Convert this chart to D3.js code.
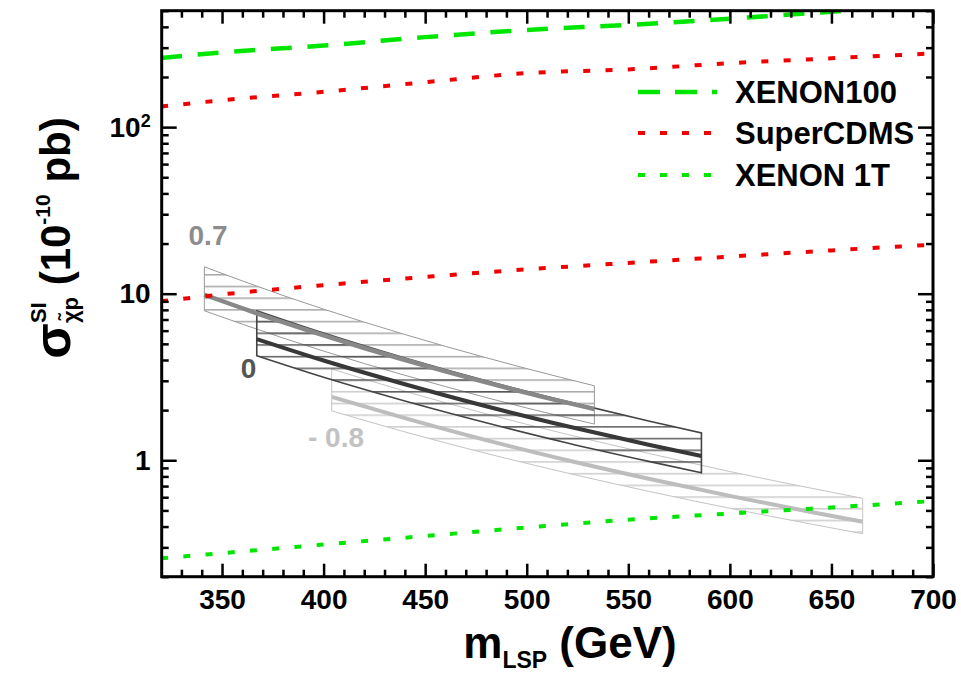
<!DOCTYPE html>
<html><head><meta charset="utf-8">
<script src="https://cdn.jsdelivr.net/npm/d3@7"></script>
<style>
body{margin:0;background:#fff}
svg{display:block}
text{font-family:"Liberation Sans",Arial,Helvetica,sans-serif;font-weight:bold}
</style>
</head><body>
<svg id="c" width="961" height="678"></svg>
<script>
// ---------- data ----------
const massGrid = [320,350,400,450,500,550,600,650,700];
const xenon100 = [260,281,309,347,383,411,448,493,545];
const superCDMSUpper = [133,145,163,186,211,222,242,259,277];
const superCDMSLower = [9.0,9.9,11.25,12.6,14.0,15.3,16.7,18.2,19.7];
const xenon1T = [0.258,0.277,0.312,0.351,0.395,0.440,0.479,0.521,0.569];

const band07Mass   = [341.3,380,420,460,500,533.3];
const band07Upper  = [14.5,9.76,6.75,4.83,3.55,2.80];
const band07Center = [9.86,6.74,4.72,3.42,2.54,2.03];
const band07Lower  = [7.9,5.42,3.81,2.77,2.06,1.65];

const band0Mass   = [367.1,400,440,480,520,560,586];
const band0Upper  = [7.9,5.80,4.11,3.00,2.25,1.72,1.46];
const band0Center = [5.34,3.97,2.86,2.11,1.60,1.24,1.06];
const band0Lower  = [4.24,3.15,2.27,1.68,1.27,0.985,0.842];

const bandM08Mass   = [404,440,480,520,560,600,640,665.4];
const bandM08Upper  = [3.53,2.60,1.90,1.43,1.10,0.856,0.680,0.591];
const bandM08Center = [2.40,1.79,1.32,1.00,0.775,0.611,0.489,0.427];
const bandM08Lower  = [1.98,1.48,1.10,0.838,0.651,0.515,0.414,0.362];

const bandLabels = ["0.7","0","- 0.8"];
const legendLabels = ["XENON100","SuperCDMS","XENON 1T"];
const xTickValues = [350,400,450,500,550,600,650,700];
const xMinorTicks = [330,340,360,370,380,390,410,420,430,440,460,470,480,490,510,520,530,540,560,570,580,590,610,620,630,640,660,670,680,690];
const yTickValues = [1,10,100];
const yMinorTicks = [0.2,0.3,0.4,0.5,0.6,0.7,0.8,0.9,2,3,4,5,6,7,8,9,20,30,40,50,60,70,80,90,200,300,400,500];

// ---------- layout ----------
const L=161.7, R=933, T=10.7, B=576.7;
const FONT='"Liberation Sans",Arial,Helvetica,sans-serif';
const svg = d3.select("#c");
const x = d3.scaleLinear().domain([320.3,700]).range([L,R]);
const y = d3.scaleLog().domain([0.2,500]).range([B,T]);

const defs = svg.append("defs");
defs.append("clipPath").attr("id","plotclip").append("rect")
  .attr("x",L).attr("y",T).attr("width",R-L).attr("height",B-T);
function hatch(id,color,w){
  const p=defs.append("pattern").attr("id",id).attr("patternUnits","userSpaceOnUse")
    .attr("width",20).attr("height",11.7);
  p.append("line").attr("x1",0).attr("x2",20).attr("y1",5.7).attr("y2",5.7)
    .attr("stroke",color).attr("stroke-width",w);
}

const bands = [
  {m:bandM08Mass,u:bandM08Upper,c:bandM08Center,l:bandM08Lower,col:"#bdbdbd",edge:"#c4c4c4",cw:4,ew:1,id:"hM08"},
  {m:band07Mass,u:band07Upper,c:band07Center,l:band07Lower,col:"#888",edge:"#999",cw:4.5,ew:1,id:"h07"},
  {m:band0Mass,u:band0Upper,c:band0Center,l:band0Lower,col:"#383838",edge:"#444",cw:4,ew:1.6,id:"h0"}
];
bands.forEach(b=>hatch(b.id,b.edge,1.3));

const plot = svg.append("g").attr("clip-path","url(#plotclip)");
const area = d3.area().x(d=>x(d[0])).y0(d=>y(d[2])).y1(d=>y(d[1])).curve(d3.curveMonotoneX);
const line = d3.line().x(d=>x(d[0])).y(d=>y(d[1])).curve(d3.curveMonotoneX);

bands.forEach(b=>{
  const pts = b.m.map((m,i)=>[m,b.u[i],b.l[i]]);
  plot.append("path").attr("d",area(pts)+"Z").attr("fill",`url(#${b.id})`)
    .attr("stroke",b.edge).attr("stroke-width",b.ew);
});
bands.forEach(b=>{
  plot.append("path").attr("d",line(b.m.map((m,i)=>[m,b.c[i]])))
    .attr("fill","none").attr("stroke",b.col).attr("stroke-width",b.cw);
});

// limit curves
const GREEN="#00e600", RED="#f00000";
const limits = [
  {v:xenon100,col:GREEN,dash:"21,15.7",w:4.5},
  {v:superCDMSUpper,col:RED,dash:"7,15.3",w:4},
  {v:superCDMSLower,col:RED,dash:"7,15.3",w:4},
  {v:xenon1T,col:GREEN,dash:"7,15.3",w:4}
];
limits.forEach(s=>{
  plot.append("path").attr("d",line(massGrid.map((m,i)=>[m,s.v[i]])))
    .attr("fill","none").attr("stroke",s.col).attr("stroke-width",s.w)
    .attr("stroke-dasharray",s.dash);
});

// band labels
const bandLabelSpec=[{t:bandLabels[0],x:208,y:245,col:"#8c8c8c"},{t:bandLabels[1],x:248.5,y:377.5,col:"#555"},{t:bandLabels[2],x:336,y:447,col:"#c2c2c2"}];
bandLabelSpec.forEach(s=>svg.append("text").attr("x",s.x).attr("y",s.y).attr("text-anchor","middle")
  .attr("font-size",28).attr("fill",s.col).text(s.t));

// legend
const legendSpec=[{col:GREEN,dash:"22,15",w:4.5,y:92},{col:RED,dash:"7,15",w:4,y:133},{col:GREEN,dash:"7,15",w:4,y:175}];
legendSpec.forEach((s,i)=>{
  svg.append("line").attr("x1",638).attr("x2",717).attr("y1",s.y).attr("y2",s.y)
    .attr("stroke",s.col).attr("stroke-width",s.w).attr("stroke-dasharray",s.dash);
  svg.append("text").attr("x",735).attr("y",s.y+11).attr("font-size",31).attr("fill","#000").text(legendLabels[i]);
});

// axes
function styleAxis(g){
  g.select(".domain").remove();
  g.selectAll("line").attr("stroke","#000").attr("stroke-width",2.5);
  g.selectAll("text").attr("font-size",28).attr("font-family",FONT).attr("font-weight","bold").attr("fill","#000");
  return g;
}
styleAxis(svg.append("g").attr("transform",`translate(0,${B})`)
  .call(d3.axisBottom(x).tickValues(xTickValues).tickSize(-13).tickPadding(12).tickFormat(d3.format("d"))));
styleAxis(svg.append("g").attr("transform",`translate(0,${B})`)
  .call(d3.axisBottom(x).tickValues(xMinorTicks).tickSize(-7).tickFormat("")));
styleAxis(svg.append("g").attr("transform",`translate(0,${T})`)
  .call(d3.axisTop(x).tickValues(xTickValues).tickSize(-13).tickFormat("")));
styleAxis(svg.append("g").attr("transform",`translate(0,${T})`)
  .call(d3.axisTop(x).tickValues(xMinorTicks).tickSize(-7).tickFormat("")));
const yl = styleAxis(svg.append("g").attr("transform",`translate(${L},0)`)
  .call(d3.axisLeft(y).tickValues(yTickValues).tickSize(-15).tickPadding(11).tickFormat(d=>d===100?"10":String(d))));
yl.selectAll(".tick").filter(d=>d===100).select("text").append("tspan")
  .attr("font-size",18).attr("dy","-0.55em").text("2");
styleAxis(svg.append("g").attr("transform",`translate(${L},0)`)
  .call(d3.axisLeft(y).tickValues(yMinorTicks).tickSize(-7).tickFormat("")));
styleAxis(svg.append("g").attr("transform",`translate(${R},0)`)
  .call(d3.axisRight(y).tickValues(yTickValues).tickSize(-15).tickFormat("")));
styleAxis(svg.append("g").attr("transform",`translate(${R},0)`)
  .call(d3.axisRight(y).tickValues(yMinorTicks).tickSize(-7).tickFormat("")));

svg.append("rect").attr("x",L).attr("y",T).attr("width",R-L).attr("height",B-T)
  .attr("fill","none").attr("stroke","#000").attr("stroke-width",3);

// rich text helper
function richText(g, parts){
  let cx=0, prevX=0;
  parts.forEach(p=>{
    const startX = p.overlay ? prevX : cx;
    const t=g.append("text").attr("font-size",p.size).attr("x",startX).attr("y",p.dy||0).attr("fill","#000").text(p.t);
    const w=t.node().getComputedTextLength();
    if(p.overlay){ cx=Math.max(cx,startX+w); } else { prevX=startX; cx=startX+w; }
  });
  g.selectAll("text").attr("x",function(){return +d3.select(this).attr("x")-cx/2;});
}
const xt = svg.append("g").attr("transform","translate(570,658)");
richText(xt,[{t:"m",size:44},{t:"LSP",size:23,dy:10},{t:"\u00a0(GeV)",size:44}]);
const ytt = svg.append("g").attr("transform","translate(70,238) rotate(-90)");
richText(ytt,[{t:"\u03c3",size:52},{t:"SI",size:22,dy:-24},{t:"\u03c7\u0303p",size:22,dy:8,overlay:true},
  {t:"\u00a0(10",size:42},{t:"-10",size:21,dy:-20},{t:"\u00a0pb)",size:42}]);
</script>
</body></html>
